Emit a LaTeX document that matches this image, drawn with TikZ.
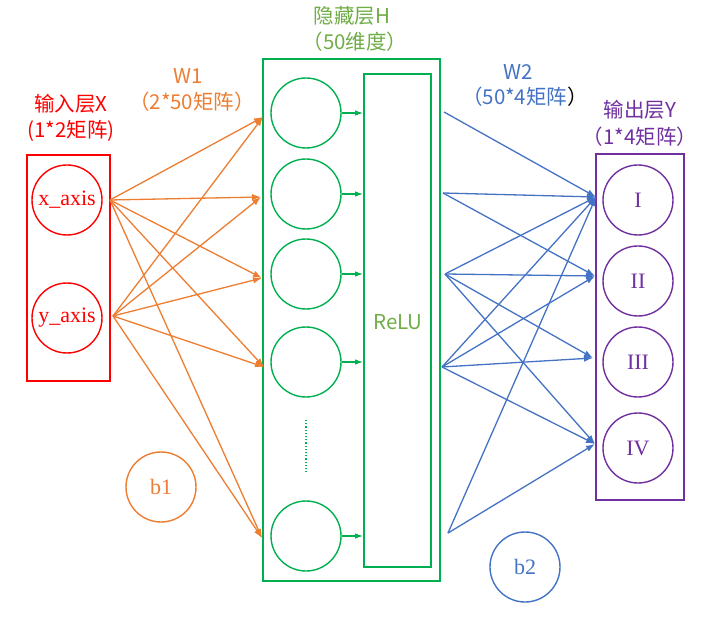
\documentclass[tikz,border=0pt]{standalone}
\usepackage{fontspec}
\setmainfont{Liberation Serif}
\newfontfamily\cjk{Noto Sans CJK SC}
\usetikzlibrary{arrows.meta}
\definecolor{cred}{RGB}{255,0,0}
\definecolor{corange}{HTML}{ED7D31}
\definecolor{cgreen}{HTML}{00B050}
\definecolor{ctgreen}{HTML}{70AD47}
\definecolor{cblue}{HTML}{4472C4}
\definecolor{cpurple}{HTML}{7030A0}
\tikzset{
  neuron/.style={circle, draw, minimum size=70pt, inner sep=0pt, line width=1.4pt, font=\fontsize{22}{24}\selectfont},
  layerbox/.style={draw, line width=1.7pt, inner sep=0pt},
  lbl/.style={font=\cjk\fontsize{20.5}{22}\selectfont, inner sep=0pt},
  oarr/.style={draw=corange, line width=1.3pt, -{Latex[length=9pt,width=6.5pt]}},
  barr/.style={draw=cblue, line width=1.3pt, -{Latex[length=9pt,width=6.5pt]}},
  garr/.style={draw=cgreen, line width=1.3pt, -{Latex[length=8pt,width=5.5pt]}},
}
\begin{document}
\begin{tikzpicture}[x=1pt,y=-1pt]
\useasboundingbox (0,0) rectangle (720,617);
% input layer
\node[layerbox, draw=cred, minimum width=83pt, minimum height=226pt] (inbox) at (68.5,268) {};
\node[neuron, draw=cred, text=cred] (xin) at (67,200) {x\_axis};
\node[neuron, draw=cred, text=cred] (yin) at (67,318) {y\_axis};
\node[lbl, text=cred] (inl1) at (71,104) {输入层X};
\node[lbl, text=cred] (inl2) at (71,131) {(1*2矩阵)};
% W1 label
\node[lbl, text=corange] (w1a) at (188,76) {W1};
\node[lbl, text=corange] (w1b) at (192,102) {（2*50矩阵）};
% hidden layer
\node[layerbox, draw=cgreen, minimum width=177pt, minimum height=522pt] (hbox) at (351.5,320) {};
\node[layerbox, draw=cgreen, minimum width=67pt, minimum height=493pt] (relu) at (397.5,320.5) {};
\node[lbl, text=ctgreen] (relut) at (398,322) {ReLU};
\node[lbl, text=ctgreen] (hl1) at (352,16) {隐藏层H};
\node[lbl, text=ctgreen] (hl2) at (355,42) {（50维度）};
\foreach \n/\y in {h1/113,h2/194,h3/274,h4/362,h5/536}{
  \node[neuron, draw=cgreen] (\n) at (306,\y) {};
  \draw[garr] (\n.east) -- (\n.east -| relu.west);
}
\coordinate (d1) at (306,420);
\coordinate (d2) at (306,473);
\draw[cgreen, line width=1.2pt, dotted] (d1) -- (d2);
% orange connections
\coordinate (xs) at (110,200);
\coordinate (ys) at (113,316);
\coordinate (t1) at (263,117);
\coordinate (t2) at (261,197);
\coordinate (t3) at (262,278);
\coordinate (t4) at (264,367);
\coordinate (t5) at (262,538);
\foreach \s in {xs,ys}{
  \foreach \t in {t1,t2,t3,t4,t5}{
    \draw[oarr] (\s) -- (\t);
  }
}
\node[neuron, draw=corange, text=corange] (b1) at (161,487) {b1};
% W2 label
\node[lbl, text=cblue] (w2a) at (518,72) {W2};
\node[lbl, text=cblue] (w2b) at (525,97) {（50*4矩阵\textcolor{black}{）}};
% output layer
\node[layerbox, draw=cpurple, minimum width=88pt, minimum height=346pt] (obox) at (640,327) {};
\node[neuron, draw=cpurple, text=cpurple] (o1) at (638,200) {I};
\node[neuron, draw=cpurple, text=cpurple] (o2) at (638,281) {II};
\node[neuron, draw=cpurple, text=cpurple] (o3) at (638,362) {III};
\node[neuron, draw=cpurple, text=cpurple] (o4) at (638,448) {IV};
\node[lbl, text=cpurple] (ol1) at (640,110) {输出层Y};
\node[lbl, text=cpurple] (ol2) at (640,137) {（1*4矩阵）};
% blue connections
\coordinate (s1) at (444,112);
\coordinate (s2) at (443,193);
\coordinate (s3) at (445,274);
\coordinate (s4) at (442,367);
\coordinate (s5) at (448,533);
\coordinate (y1) at (596,197);
\coordinate (y2) at (595,276);
\coordinate (y3) at (593,358);
\coordinate (y4) at (595,444);
\foreach \s/\t in {s1/y1,s2/y1,s2/y2,s3/y1,s3/y2,s3/y3,s3/y4,s4/y1,s4/y2,s4/y3,s4/y4,s5/y1,s5/y4}{
  \draw[barr] (\s) -- (\t);
}
\node[neuron, draw=cblue, text=cblue] (b2) at (525,567) {b2};
\end{tikzpicture}
\end{document}
